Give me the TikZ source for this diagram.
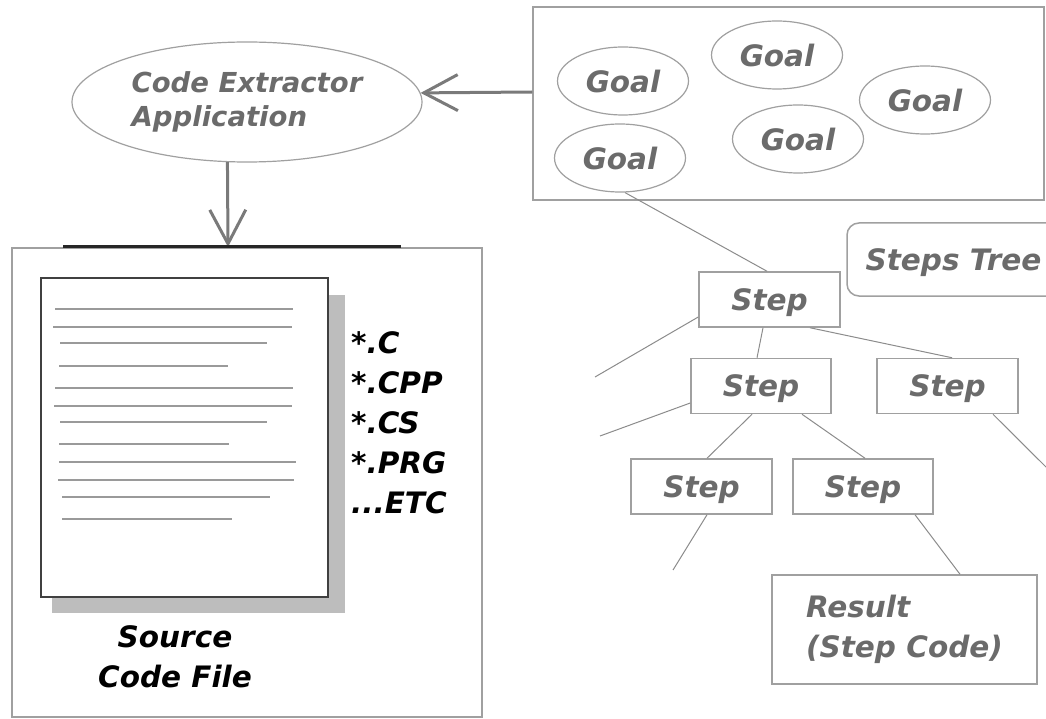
\documentclass[tikz,border=0pt]{standalone}
\usepackage{fontspec}
\setmainfont{DejaVu Sans}
\usetikzlibrary{shapes.geometric,arrows.meta,calc}
\definecolor{txtgray}{HTML}{6B6B6B}
\definecolor{linegray}{HTML}{8C8C8C}
\definecolor{boxgray}{HTML}{A0A0A0}
\definecolor{arrgray}{HTML}{7A7A7A}
\definecolor{shadowgray}{HTML}{BDBDBD}
\definecolor{doclinegray}{HTML}{9A9A9A}
\tikzset{
  lbl/.style={font=\fontsize{29.5}{40}\selectfont\bfseries\itshape},
  goalnode/.style={ellipse, draw=boxgray, line width=1.2pt, inner sep=0pt,
    minimum width=131pt, minimum height=68pt, text=txtgray, text depth=0pt, lbl},
  stepnode/.style={rectangle, draw=boxgray, line width=1.5pt, inner sep=0pt,
    minimum height=55pt, text=txtgray, text depth=0pt, lbl},
  frame/.style={rectangle, draw=boxgray, line width=1.5pt, inner sep=0pt},
  conn/.style={draw=linegray, line width=1pt},
  bigarrow/.style={draw=arrgray, line width=3pt,
    -{Straight Barb[length=34pt,width=36pt,line width=3pt]}},
  docline/.style={draw=doclinegray, line width=1.5pt},
}
\begin{document}
\begin{tikzpicture}[x=1pt,y=-1pt]
\clip (0,0) rectangle (1046,719);
\fill[white] (0,0) rectangle (1046,719);

% Code extractor application
\node[ellipse, draw=boxgray, line width=1.2pt, inner sep=0pt,
  minimum width=350pt, minimum height=120pt, text=txtgray, align=left,
  font=\fontsize{27.5}{34}\selectfont\bfseries\itshape] (cea) at (247,102)
  {Code Extractor\\Application};

% Goals box
\node[frame, minimum width=511pt, minimum height=193pt] (goals) at (788.5,103.5) {};
\node[goalnode] (g1) at (623,81) {Goal};
\node[goalnode] (g2) at (777,55) {Goal};
\node[goalnode] (g3) at (925,100) {Goal};
\node[goalnode] (g4) at (798,139) {Goal};
\node[goalnode] (g5) at (620,158) {Goal};

% arrows
\draw[bigarrow] ([yshift=11.5pt]goals.west) -- (cea.3.3);
\coordinate (vt) at (228,247);
\draw[bigarrow] (cea.252) -- (vt);

% source box
\node[frame, minimum width=470pt, minimum height=469pt] (srcbox) at (247,482.5) {};
\coordinate (bl) at (63,247);
\coordinate (br) at (401,247);
\draw[line width=3pt, black!85] (bl) -- (br);

% document with shadow
\fill[shadowgray] (52,295) rectangle (345,613);
\node[draw=black!75, fill=white, line width=1.5pt, inner sep=0pt,
  minimum width=287pt, minimum height=319pt] (doc) at (184.5,437.5) {};
\foreach \yy/\aa/\bb in {309/55/293, 327/53/292, 343/60/267, 366/59/228,
  388/55/293, 406/54/292, 422/60/267, 444/59/229, 462/59/296, 480/58/294,
  497/62/270, 519/62/232}
  \draw[docline] (\aa,\yy) -- (\bb,\yy);

\node[anchor=north west, inner sep=0pt, align=left, lbl, text=black] (ext)
  at (351,331) {*.C\\*.CPP\\*.CS\\*.PRG\\...ETC};
\node[anchor=north, inner sep=0pt, align=center, lbl, text=black] (scf)
  at (175,625) {Source\\Code File};

% steps tree
\node[frame, rounded corners=12pt, minimum width=213pt, minimum height=73pt,
  text=txtgray, text depth=0pt, lbl] (stree) at (953.5,259.5) {Steps Tree};

\node[stepnode, minimum width=141pt] (s1) at (769.5,299.5) {Step};
\node[stepnode, minimum width=140pt] (s2) at (761,386) {Step};
\node[stepnode, minimum width=141pt] (s3) at (947.5,386) {Step};
\node[stepnode, minimum width=141pt] (s4) at (701.5,486.5) {Step};
\node[stepnode, minimum width=140pt] (s5) at (863,486.5) {Step};
\node[frame, minimum width=265pt, minimum height=109pt, text=txtgray,
  align=left, lbl] (res) at (904.5,629.5) {Result\\(Step Code)};

\coordinate (e1) at (595,377);
\coordinate (e2) at (600,436);
\coordinate (e3) at (1052,473);
\coordinate (e4) at (673,570);

\draw[conn] ([xshift=5pt]g5.south) -- ([xshift=-2.5pt]s1.north);
\draw[conn] ([yshift=-17.5pt]s1.west) -- (e1);
\draw[conn] ([xshift=-6.5pt]s1.south) -- ([xshift=-4pt]s2.north);
\draw[conn] ([xshift=40.5pt]s1.south) -- ([xshift=4.5pt]s3.north);
\draw[conn] ([yshift=-17pt]s2.west) -- (e2);
\draw[conn] ([xshift=-9pt]s2.south) -- ([xshift=5.5pt]s4.north);
\draw[conn] ([xshift=41pt]s2.south) -- ([xshift=2pt]s5.north);
\draw[conn] ([xshift=45.5pt]s3.south) -- (e3);
\draw[conn] ([xshift=5.5pt]s4.south) -- (e4);
\draw[conn] ([xshift=52pt]s5.south) -- ([xshift=55.5pt]res.north);
\end{tikzpicture}
\end{document}
